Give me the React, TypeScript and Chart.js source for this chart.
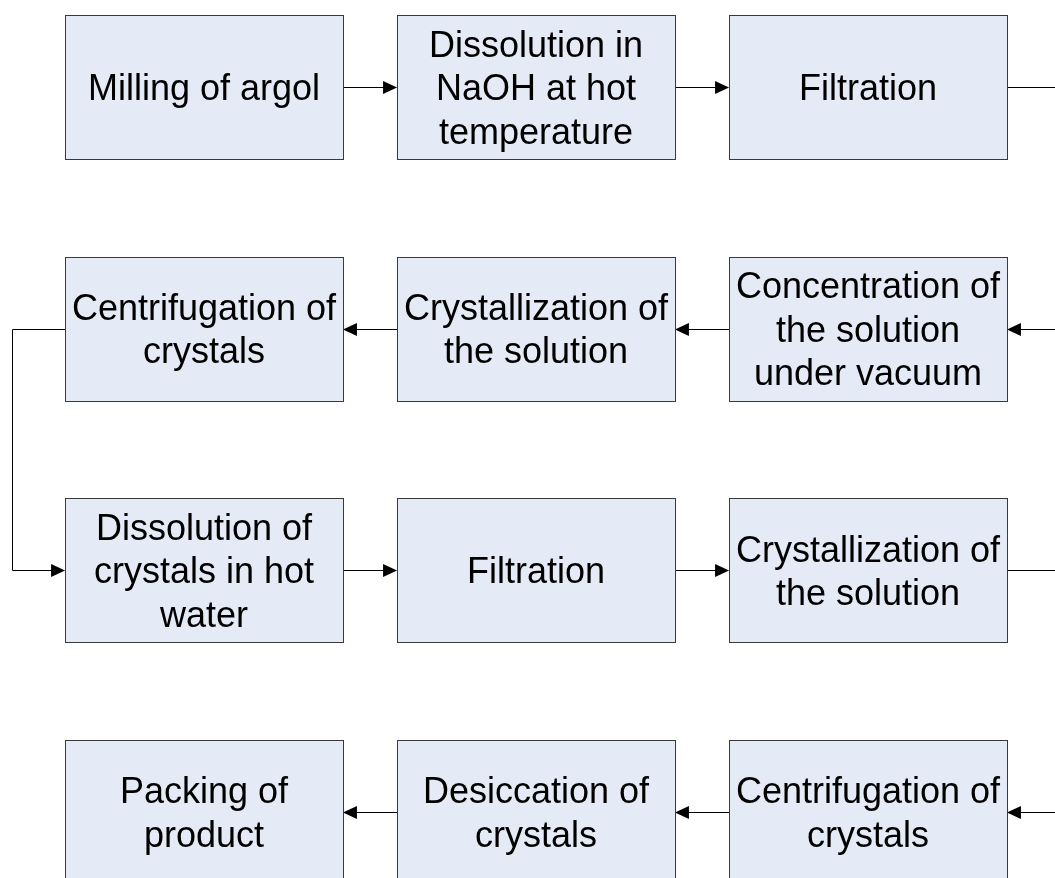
import React, { useEffect, useRef } from "react";
import { Chart, registerables } from "chart.js";

Chart.register(...registerables);

// Flow steps (text lines), in process order
const stepLabels: string[][] = [
  ["Milling of argol"],
  ["Dissolution in", "NaOH at hot", "temperature"],
  ["Filtration"],
  ["Concentration of", "the solution", "under vacuum"],
  ["Crystallization of", "the solution"],
  ["Centrifugation of", "crystals"],
  ["Dissolution of", "crystals in hot", "water"],
  ["Filtration"],
  ["Crystallization of", "the solution"],
  ["Centrifugation of", "crystals"],
  ["Desiccation of", "crystals"],
  ["Packing of", "product"],
];
// Grid cell (row, column) of each step
const stepRow = [0, 0, 0, 1, 1, 1, 2, 2, 2, 3, 3, 3];
const stepCol = [0, 1, 2, 2, 1, 0, 0, 1, 2, 2, 1, 0];

// Layout (grid units)
const BOX_W = 0.837;
const BOX_H = 0.596;
const LOOP_LEFT = -0.578;
const LOOP_RIGHT = 2.66;
const X_MIN = -0.6145;
const X_MAX = 2.5633;
const Y_MIN = -0.36;
const Y_MAX = 3.273;

const FILL = "#E5EBF6";
const BORDER = "#3a3a3a";
const FONT = "36px 'Liberation Sans', Arial, sans-serif";
const LINE_H = 43.5;

const flowPlugin = {
  id: "flowPlugin",
  afterDatasetsDraw(chart: any) {
    const ctx = chart.ctx as CanvasRenderingContext2D;
    const xs = chart.scales.x;
    const ys = chart.scales.y;
    const px = (v: number) => xs.getPixelForValue(v);
    const py = (v: number) => ys.getPixelForValue(v);

    const arrowHead = (x: number, y: number, dir: number) => {
      const len = 14;
      const hw = 6.5;
      ctx.beginPath();
      ctx.moveTo(x, y);
      ctx.lineTo(x - dir * len, y - hw);
      ctx.lineTo(x - dir * len, y + hw);
      ctx.closePath();
      ctx.fillStyle = "#000";
      ctx.fill();
    };

    ctx.save();
    // connectors
    ctx.strokeStyle = "#000";
    ctx.lineWidth = 1;
    for (let i = 0; i < stepLabels.length - 1; i++) {
      const r0 = stepRow[i], c0 = stepCol[i];
      const r1 = stepRow[i + 1], c1 = stepCol[i + 1];
      const y0 = Math.round(py(r0)) + 0.5;
      const y1 = Math.round(py(r1)) + 0.5;
      if (r0 === r1) {
        const dir = c1 > c0 ? 1 : -1;
        const xa = px(c0 + dir * BOX_W / 2);
        const xb = px(c1 - dir * BOX_W / 2);
        ctx.beginPath();
        ctx.moveTo(xa, y0);
        ctx.lineTo(xb - dir * 10, y0);
        ctx.stroke();
        arrowHead(xb, y0, dir);
      } else {
        const right = c0 === 2;
        const side = right ? 1 : -1;
        const loopX = Math.round(px(right ? LOOP_RIGHT : LOOP_LEFT)) + 0.5;
        const xa = px(c0 + side * BOX_W / 2);
        const xb = px(c1 + side * BOX_W / 2);
        ctx.beginPath();
        ctx.moveTo(xa, y0);
        ctx.lineTo(loopX, y0);
        ctx.lineTo(loopX, y1);
        ctx.lineTo(xb + side * 10, y1);
        ctx.stroke();
        arrowHead(xb, y1, -side);
      }
    }
    // boxes
    for (let i = 0; i < stepLabels.length; i++) {
      const l = Math.round(px(stepCol[i] - BOX_W / 2)) + 0.5;
      const r = Math.round(px(stepCol[i] + BOX_W / 2)) + 0.5;
      const t = Math.round(py(stepRow[i] - BOX_H / 2)) + 0.5;
      const b = Math.round(py(stepRow[i] + BOX_H / 2)) + 0.5;
      ctx.fillStyle = FILL;
      ctx.fillRect(l, t, r - l, b - t);
      ctx.strokeStyle = BORDER;
      ctx.lineWidth = 1;
      ctx.strokeRect(l, t, r - l, b - t);
      const cx = px(stepCol[i]);
      const cy = py(stepRow[i]);
      ctx.fillStyle = "#000";
      ctx.font = FONT;
      ctx.textAlign = "center";
      ctx.textBaseline = "alphabetic";
      const lines = stepLabels[i];
      lines.forEach((line, k) => {
        const yy = cy + (k - (lines.length - 1) / 2) * LINE_H + 13;
        ctx.fillText(line, cx, yy);
      });
    }
    ctx.restore();
  },
};

export default function App() {
  const ref = useRef<HTMLCanvasElement | null>(null);
  useEffect(() => {
    if (!ref.current) return;
    const chart = new Chart(ref.current, {
      type: "scatter",
      data: {
        datasets: [
          {
            data: stepLabels.map((_, i) => ({ x: stepCol[i], y: stepRow[i] })),
            pointRadius: 0,
            showLine: false,
          },
        ],
      },
      options: {
        animation: false,
        responsive: false,
        maintainAspectRatio: false,
        layout: { padding: 0 },
        plugins: { legend: { display: false }, tooltip: { enabled: false } },
        scales: {
          x: { type: "linear", min: X_MIN, max: X_MAX, display: false },
          y: { type: "linear", min: Y_MIN, max: Y_MAX, reverse: true, display: false },
        },
      },
      plugins: [flowPlugin],
    });
    return () => chart.destroy();
  }, []);
  return (
    <div style={{ position: "absolute", left: 0, top: 0, width: 1055, height: 878, background: "#fff" }}>
      <canvas ref={ref} width={1055} height={878} style={{ display: "block" }} />
    </div>
  );
}
